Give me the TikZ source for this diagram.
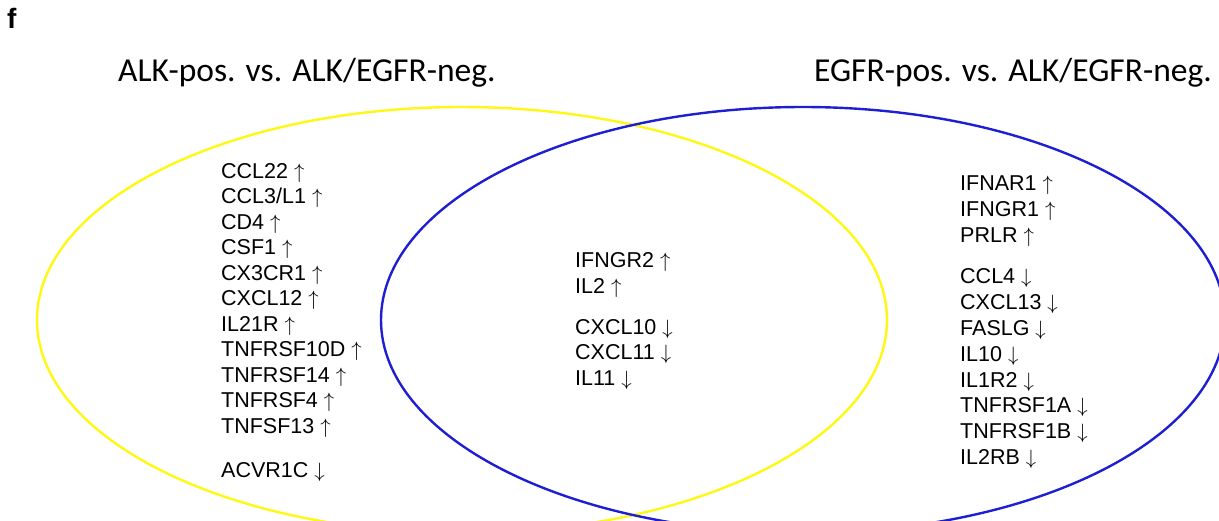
\documentclass[tikz,border=0pt]{standalone}
\usepackage{fontspec}
\setmainfont{Liberation Sans}
\newfontfamily\headfont{Carlito}
\definecolor{alkyellow}{RGB}{255,248,20}
\definecolor{egfrblue}{RGB}{30,30,210}
\newcommand{\upreg}{\ $\uparrow$}
\newcommand{\downreg}{\ $\downarrow$}
\begin{document}
\begin{tikzpicture}[x=1pt,y=-1pt,
  gene/.style={anchor=base west, inner sep=0pt, font=\fontsize{21.5}{25.8}\selectfont},
  heading/.style={inner sep=0pt, font=\headfont\fontsize{33.5}{40}\selectfont},
  panel/.style={anchor=base west, inner sep=0pt, font=\bfseries\fontsize{28}{32}\selectfont},
  setA/.style={draw=alkyellow, line width=2.4pt},
  setB/.style={draw=egfrblue, line width=2.4pt}]
\useasboundingbox (0,0) rectangle (1219,520);

% the two sets, cut by the lower and right edges
\begin{scope}
  \clip (0,0) rectangle (1219,520);
  \draw[setA] (462,320) ellipse [x radius=425pt, y radius=213pt];
  \draw[setB] (803,320) ellipse [x radius=422pt, y radius=213pt];
\end{scope}

% panel letter and set headings
\node[panel] (letter) at (7,28) {f};
\node[heading, anchor=base west] (headA) at (118,81) {ALK-pos. vs. ALK/EGFR-neg.};
\node[heading, anchor=base east] (headB) at (1212,81) {EGFR-pos. vs. ALK/EGFR-neg.};

% ALK-only genes
\foreach \g [count=\i from 0] in {CCL22, CCL3/L1, CD4, CSF1, CX3CR1, CXCL12, IL21R,
    TNFRSF10D, TNFRSF14, TNFRSF4, TNFSF13}
  \node[gene] (alkup\i) at (221,{178.4+25.5*\i}) {\g\upreg};
\node[gene] (alkdown0) at (221,477.4) {ACVR1C\downreg};

% shared genes
\foreach \g [count=\i from 0] in {IFNGR2, IL2}
  \node[gene] (bothup\i) at (575,{267.4+26*\i}) {\g\upreg};
\foreach \g [count=\i from 0] in {CXCL10, CXCL11, IL11}
  \node[gene] (bothdown\i) at (575,{334+25.85*\i}) {\g\downreg};

% EGFR-only genes
\foreach \g [count=\i from 0] in {IFNAR1, IFNGR1, PRLR}
  \node[gene] (egfrup\i) at (960,{190.7+26*\i}) {\g\upreg};
\foreach \g [count=\i from 0] in {CCL4, CXCL13, FASLG, IL10, IL1R2, TNFRSF1A, TNFRSF1B, IL2RB}
  \node[gene] (egfrdown\i) at (960,{283.4+25.9*\i}) {\g\downreg};
\end{tikzpicture}
\end{document}
